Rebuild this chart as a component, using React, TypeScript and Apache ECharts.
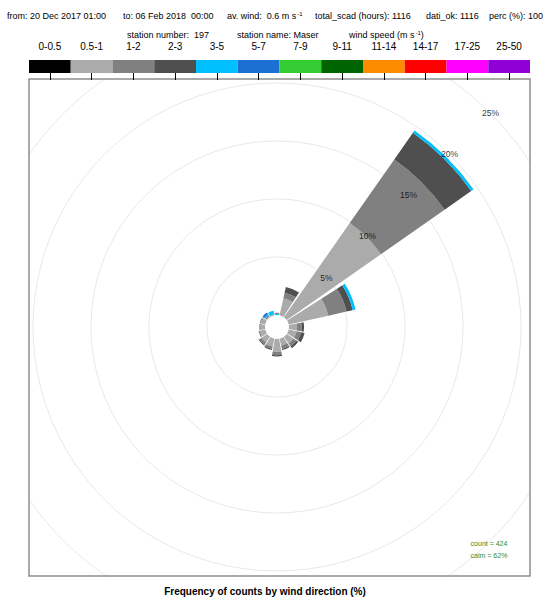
import { useEffect, useRef } from 'react';
import * as echarts from 'echarts';

// 16 compass sectors, clockwise from north
const DIRECTIONS = ['N', 'NNE', 'NE', 'ENE', 'E', 'ESE', 'SE', 'SSE', 'S', 'SSW', 'SW', 'WSW', 'W', 'WNW', 'NW', 'NNW'];

// wind speed classes (m/s) and their colours
const SPEED_CLASSES = ['0-0.5', '0.5-1', '1-2', '2-3', '3-5', '5-7', '7-9', '9-11', '11-14', '14-17', '17-25', '25-50'];
const CLASS_COLORS = ['#000000', '#ababab', '#808080', '#4f4f4f', '#00bfff', '#1c6fd3', '#33cc33', '#006400', '#ff8c00', '#ff0000', '#ff00ff', '#9000d6'];

// frequency (%) per direction for each speed class
const FREQ_0_05 = [0, 0, 0, 0, 0, 0, 0, 0, 0, 0, 0, 0, 0, 0, 0, 0];
const FREQ_05_1 = [0, 1.5, 9.9, 3.5, 0.7, 0.7, 0.7, 0.6, 1.1, 0.7, 0.6, 0.5, 0.4, 0.4, 0.1, 0.1];
const FREQ_1_2 = [0, 0.5, 6.7, 1.6, 0.4, 0.4, 0.3, 0.3, 0.3, 0.2, 0.2, 0.1, 0.1, 0.1, 0.1, 0];
const FREQ_2_3 = [0, 0.5, 2.8, 0.55, 0.2, 0.3, 0.2, 0.1, 0.1, 0.1, 0.1, 0, 0, 0, 0, 0];
const FREQ_3_5 = [0.15, 0, 0.25, 0.25, 0, 0, 0, 0, 0, 0, 0, 0, 0, 0, 0.1, 0.3];
const FREQ_5_7 = [0, 0, 0, 0, 0, 0, 0, 0, 0, 0, 0, 0, 0, 0, 0.2, 0];
const FREQ_7_9 = [0, 0, 0, 0, 0, 0, 0, 0, 0, 0, 0, 0, 0, 0, 0, 0];
const FREQ_9_11 = [0, 0, 0, 0, 0, 0, 0, 0, 0, 0, 0, 0, 0, 0, 0, 0];
const FREQ_11_14 = [0, 0, 0, 0, 0, 0, 0, 0, 0, 0, 0, 0, 0, 0, 0, 0];
const FREQ_14_17 = [0.05, 0, 0, 0, 0, 0, 0, 0, 0, 0, 0, 0, 0, 0, 0, 0];
const FREQ_17_25 = [0, 0, 0, 0, 0, 0, 0, 0, 0, 0, 0, 0, 0, 0, 0, 0];
const FREQ_25_50 = [0, 0, 0, 0, 0, 0, 0, 0, 0, 0, 0, 0, 0, 0, 0, 0];

const CLASS_FREQS = [
  FREQ_0_05, FREQ_05_1, FREQ_1_2, FREQ_2_3, FREQ_3_5, FREQ_5_7,
  FREQ_7_9, FREQ_9_11, FREQ_11_14, FREQ_14_17, FREQ_17_25, FREQ_25_50,
];

// percentage rings
const RING_VALUES = [5, 10, 15, 20, 25];
const RING_MAX = 25;
const RING_STEP = 5;

// station summary
const PERIOD_FROM = '20 Dec 2017 01:00';
const PERIOD_TO = '06 Feb 2018  00:00';
const AV_WIND = 0.6;
const TOTAL_HOURS = 1116;
const DATA_OK = 1116;
const PERC_OK = 100;
const STATION_NUMBER = 197;
const STATION_NAME = 'Maser';
const COUNT = 424;
const CALM_PCT = 62;

const FONT = '"Liberation Sans", Arial, Helvetica, sans-serif';

export default function App() {
  const ref = useRef<HTMLDivElement>(null);

  useEffect(() => {
    if (!ref.current) return;
    const chart = echarts.init(ref.current, undefined, { renderer: 'svg' });

    const windSeries = SPEED_CLASSES.map((name, i) => ({
      type: 'bar',
      name,
      coordinateSystem: 'polar',
      stack: 'wind',
      data: CLASS_FREQS[i],
      barCategoryGap: '11%',
      itemStyle: { color: CLASS_COLORS[i] },
      silent: true,
      z: 2,
    }));

    const headerText = (x: number, y: number, text: string) => ({
      type: 'text',
      z: 20,
      style: {
        x,
        y,
        text,
        fontSize: 9,
        fontFamily: FONT,
        fill: '#000',
        align: 'left',
        verticalAlign: 'middle',
        rich: {
          s: { fontSize: 6, fontFamily: FONT, verticalAlign: 'top', padding: [0, 0, 4, 1] },
        },
      },
    });

    const mask = (x: number, y: number, w: number, h: number) => ({
      type: 'rect',
      z: 5,
      silent: true,
      shape: { x, y, width: w, height: h },
      style: { fill: '#ffffff' },
    });

    chart.setOption({
      animation: false,
      backgroundColor: '#ffffff',
      textStyle: { fontFamily: FONT },
      polar: { center: [277, 327], radius: [12, 302] },
      angleAxis: {
        type: 'category',
        data: DIRECTIONS,
        startAngle: 90 + 360 / DIRECTIONS.length / 2,
        clockwise: true,
        boundaryGap: true,
        axisLine: { show: false },
        axisTick: { show: false },
        axisLabel: { show: false },
        splitLine: { show: false },
      },
      radiusAxis: {
        type: 'value',
        min: 0,
        max: RING_MAX,
        interval: RING_STEP,
        axisLine: { show: false },
        axisTick: { show: false },
        axisLabel: { show: false },
        splitLine: {
          show: true,
          lineStyle: {
            color: ['rgba(0,0,0,0)', '#e8e8e8', '#e8e8e8', '#e8e8e8', '#e8e8e8', '#e8e8e8'],
            width: 1,
          },
        },
      },
      grid: { left: 29, top: 60, width: 501, height: 13 },
      xAxis: {
        type: 'category',
        data: SPEED_CLASSES,
        position: 'top',
        z: 10,
        axisLine: { show: false },
        axisTick: { show: true, inside: true, alignWithLabel: true, length: 7, lineStyle: { color: '#000', width: 1 } },
        axisLabel: { interval: 0, fontSize: 10, color: '#000', margin: 9, fontFamily: FONT },
        splitLine: { show: false },
      },
      yAxis: { type: 'value', min: 0, max: 1, show: false },
      series: [
        ...windSeries,
        {
          type: 'bar',
          name: 'speed classes',
          xAxisIndex: 0,
          yAxisIndex: 0,
          barCategoryGap: 0,
          silent: true,
          z: 10,
          data: SPEED_CLASSES.map((_, i) => ({ value: 1, itemStyle: { color: CLASS_COLORS[i] } })),
        },
        {
          type: 'scatter',
          coordinateSystem: 'polar',
          silent: true,
          z: 4,
          symbolSize: 1,
          itemStyle: { color: 'rgba(0,0,0,0)' },
          data: RING_VALUES.map((v) => [v, 'NE']),
          label: {
            show: true,
            position: 'inside',
            formatter: (p: any) => `${p.value[0]}%`,
            fontSize: 8.5,
            color: '#000',
            fontFamily: FONT,
          },
        },
      ],
      graphic: [
        // keep the rings inside the plotting frame
        mask(0, 0, 549, 79),
        mask(0, 577, 549, 22),
        mask(0, 79, 29, 498),
        mask(530, 79, 19, 498),
        {
          type: 'rect',
          z: 6,
          silent: true,
          shape: { x: 29, y: 79, width: 501, height: 497 },
          style: { fill: 'none', stroke: '#8f8f8f', lineWidth: 1.5 },
        },
        headerText(7, 16, `from: ${PERIOD_FROM}`),
        headerText(123, 16, `to: ${PERIOD_TO}`),
        headerText(227, 16, `av. wind:  ${AV_WIND} m s{s|-1}`),
        headerText(315, 16, `total_scad (hours): ${TOTAL_HOURS}`),
        headerText(426, 16, `dati_ok: ${DATA_OK}`),
        headerText(489, 16, `perc (%): ${PERC_OK}`),
        headerText(127, 35, `station number:  ${STATION_NUMBER}`),
        headerText(237, 35, `station name: ${STATION_NAME}`),
        headerText(349, 35, 'wind speed (m s{s|-1})'),
        {
          type: 'text',
          z: 20,
          style: {
            x: 489, y: 543, text: `count = ${COUNT}`, fontSize: 7, fontFamily: FONT,
            fill: '#2e8b2e', align: 'center', verticalAlign: 'middle',
          },
        },
        {
          type: 'text',
          z: 20,
          style: {
            x: 489, y: 555, text: `calm = ${CALM_PCT}%`, fontSize: 7, fontFamily: FONT,
            fill: '#2e8b2e', align: 'center', verticalAlign: 'middle',
          },
        },
        {
          type: 'text',
          z: 20,
          style: {
            x: 265, y: 591, text: 'Frequency of counts by wind direction (%)', fontSize: 10,
            fontWeight: 'bold', fontFamily: FONT, fill: '#000', align: 'center', verticalAlign: 'middle',
          },
        },
      ],
    });

    return () => chart.dispose();
  }, []);

  return (
    <div
      ref={ref}
      style={{ position: 'absolute', left: 0, top: 0, width: 549, height: 599, background: '#fff' }}
    />
  );
}
